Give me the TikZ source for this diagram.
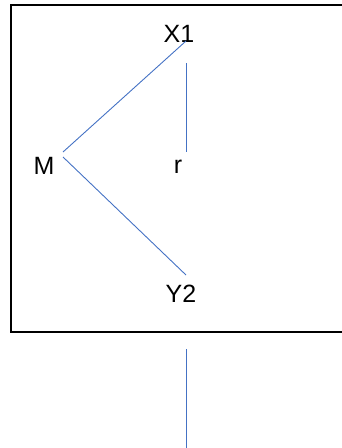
\documentclass[tikz,border=0pt]{standalone}
\usepackage{fontspec}
\setmainfont{Liberation Sans}
\usetikzlibrary{positioning}
\definecolor{linkblue}{HTML}{4472C4}

\begin{document}
\begin{tikzpicture}[x=1pt, y=-1pt,
  lbl/.style={inner sep=0pt, font=\fontsize{25}{30}\selectfont},
  link/.style={draw=linkblue, line width=0.9pt},
  frame/.style={draw=black, line width=1.6pt}]
\useasboundingbox (0,0) rectangle (341,448);
% frame, open on the right
\draw[frame] (342,5) -- (11,5) -- (11,332) -- (342,332);
% labels
\node[lbl] (x1) at (179,34) {X1};
\node[lbl] (m) at (44,166) {M};
\node[lbl] (r) at (178,167) {r};
\node[lbl] (y2) at (181,294) {Y2};
% free ends of the links
\coordinate (m-up) at (63,152); \coordinate (m-down) at (63,157);
\coordinate (x1-foot) at (186,41); \coordinate (x1-stem) at (186,63);
\coordinate (r-top) at (186,152); \coordinate (y2-top) at (186,275);
\coordinate (out-top) at (186,349); \coordinate (out-end) at (186,449);
\draw[link] (m-up) -- (x1-foot);
\draw[link] (x1-stem) -- (r-top);
\draw[link] (m-down) -- (y2-top);
\draw[link] (out-top) -- (out-end);
\end{tikzpicture}
\end{document}
